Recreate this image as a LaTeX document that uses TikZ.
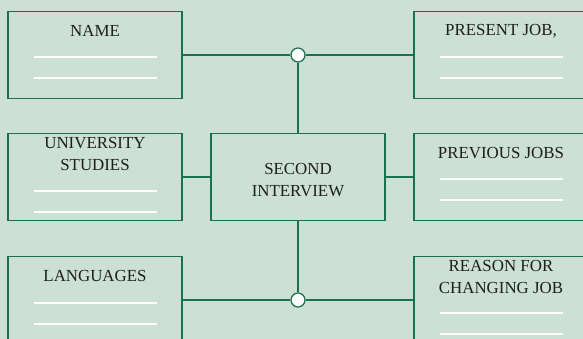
\documentclass[tikz,border=0pt]{standalone}
\usepackage{fontspec}
\setmainfont{Liberation Serif}
\usetikzlibrary{positioning}

\definecolor{bgmint}{HTML}{CDE0D6}
\definecolor{framegreen}{HTML}{1B7050}
\definecolor{inkgray}{HTML}{1E1E1E}

\tikzset{
  card/.style={draw=framegreen, line width=0.9pt, minimum width=4.35cm,
    minimum height=2.175cm, inner sep=0pt},
  cardtitle/.style={text=inkgray, font=\fontsize{12}{15.5}\selectfont,
    align=center, inner sep=0pt},
  link/.style={framegreen, line width=0.9pt},
  joint/.style={circle, draw=framegreen, fill=white, line width=0.9pt,
    minimum size=0.35cm, inner sep=0pt},
  blank/.style={white, line width=1pt}
}

\begin{document}
\begin{tikzpicture}[x=0.025cm, y=-0.025cm]

  % Background
  \fill[bgmint] (0,0) rectangle (583,339);
  \useasboundingbox (0,0) rectangle (583,339);
  \clip (0,0) rectangle (583,339);

  % Cards
  \node[card] (name)      at (95,55)    {};
  \node[card] (present)   at (501,55)   {};
  \node[card] (univ)      at (95,177)   {};
  \node[card] (second)    at (298,177)  {};
  \node[card] (previous)  at (501,177)  {};
  \node[card] (languages) at (95,300)   {};
  \node[card] (reason)    at (501,300)  {};

  % Titles
  \node[cardtitle] (nameT)      at ([yshift=-0.5cm]name.north)      {NAME};
  \node[cardtitle] (presentT)   at ([yshift=-0.5cm]present.north)   {PRESENT JOB,};
  \node[cardtitle] (univT)      at ([yshift=-0.52cm]univ.north)     {UNIVERSITY\\STUDIES};
  \node[cardtitle] (secondT)    at ([yshift=-0.07cm]second.center)  {SECOND\\INTERVIEW};
  \node[cardtitle] (previousT)  at ([yshift=-0.5cm]previous.north)  {PREVIOUS JOBS};
  \node[cardtitle] (languagesT) at ([yshift=-0.5cm]languages.north) {LANGUAGES};
  \node[cardtitle] (reasonT)    at ([yshift=-0.52cm]reason.north)   {REASON FOR\\CHANGING JOB};

  % Blank lines to fill in
  \foreach \c/\d in {name/46, present/46, previous/46, languages/47, univ/58, reason/57} {
    \draw[blank] ([shift={(-61.5,\d)}]\c.north) -- ++(123,0);
    \draw[blank] ([shift={(-61.5,\d+21)}]\c.north) -- ++(123,0);
  }

  % Joints
  \node[joint] (jtop) at (298,55)  {};
  \node[joint] (jbot) at (298,300) {};

  % Connectors
  \draw[link] (name) -- (jtop) -- (present);
  \draw[link] (jtop) -- (second);
  \draw[link] (univ) -- (second) -- (previous);
  \draw[link] (second) -- (jbot);
  \draw[link] (languages) -- (jbot) -- (reason);

\end{tikzpicture}
\end{document}
